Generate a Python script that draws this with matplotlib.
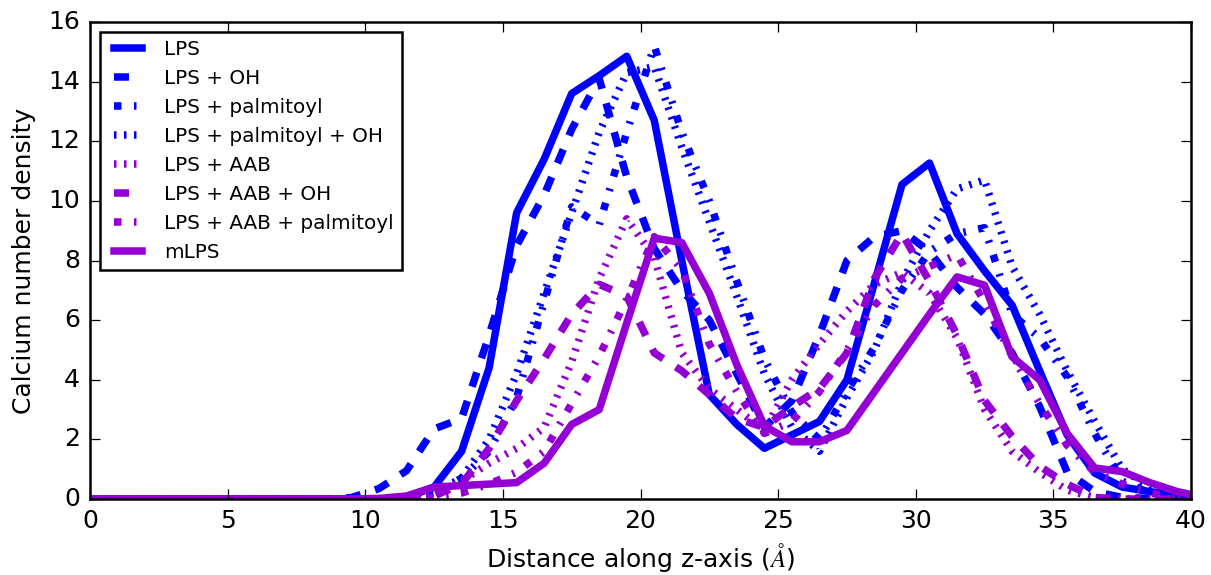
import numpy as np
import matplotlib
matplotlib.use('Agg')
from matplotlib import pyplot as plt

# sample positions (bin centres); everything below 8.5 is zero
x_head = np.arange(-0.5, 8.0, 1.0)
x_tail = np.arange(8.5, 41.0, 1.0)

lps = [0, 0, 0, 0.05, 0.4, 1.6, 4.4, 9.6, 11.4, 13.6, 14.2, 14.85, 12.7, 8.0, 3.5, 2.5, 1.7,
       2.15, 2.6, 4.0, 7.25, 10.55, 11.27, 8.9, 7.65, 6.5, 4.3, 2.15, 0.87, 0.4, 0.25, 0.12, 0.05]
lps_oh = [0, 0.05, 0.35, 0.95, 2.35, 2.7, 5.5, 8.5, 10.2, 12.4, 14.1, 10.8, 8.4, 7.0, 6.0, 4.2, 2.4,
          3.3, 5.5, 8.0, 8.8, 9.0, 8.3, 7.1, 6.2, 4.9, 3.1, 0.9, 0.25, 0.05, 0.02, 0, 0]
lps_palm = [0, 0, 0, 0.05, 0.2, 0.7, 1.6, 3.4, 6.6, 9.8, 9.2, 12.3, 15.2, 12.3, 10.0, 7.3, 4.7,
            2.9, 2.0, 3.6, 5.1, 7.0, 8.3, 8.9, 9.1, 6.2, 5.4, 4.1, 2.2, 0.6, 0.2, 0.05, 0]
lps_palm_oh = [0, 0, 0, 0.05, 0.2, 0.7, 2.0, 4.2, 6.9, 9.6, 12.3, 14.3, 14.5, 11.8, 9.3, 6.8, 4.2,
               2.4, 1.6, 3.4, 5.0, 7.3, 9.0, 10.4, 10.7, 7.8, 6.2, 4.3, 2.6, 1.0, 0.4, 0.1, 0.02]
lps_aab = [0, 0, 0, 0.02, 0.15, 0.6, 1.2, 1.7, 2.4, 4.6, 7.4, 9.4, 8.1, 4.9, 3.7, 3.0, 2.3,
           4.0, 5.2, 6.3, 7.2, 7.6, 6.9, 5.4, 3.0, 1.6, 0.9, 0.3, 0.05, 0, 0, 0, 0]
lps_aab_oh = [0, 0, 0, 0, 0.1, 0.5, 1.7, 3.3, 4.7, 6.2, 7.2, 6.8, 4.9, 4.3, 3.5, 2.7, 2.4,
              3.1, 3.7, 4.9, 7.4, 8.9, 7.3, 5.5, 3.3, 2.1, 1.1, 0.5, 0.05, 0, 0, 0, 0]
lps_aab_palm = [0, 0, 0, 0, 0.05, 0.2, 0.5, 0.9, 1.6, 3.2, 4.8, 6.7, 8.8, 7.7, 5.2, 3.6, 2.2,
                2.6, 3.6, 5.0, 6.5, 7.4, 7.8, 8.2, 6.6, 4.8, 3.2, 1.8, 0.9, 0.5, 0.2, 0.05, 0]
mlps = [0, 0, 0.02, 0.1, 0.4, 0.45, 0.5, 0.55, 1.2, 2.5, 3.0, 5.9, 8.75, 8.6, 6.9, 4.5, 2.45,
        1.92, 1.92, 2.3, 3.6, 4.9, 6.2, 7.45, 7.17, 4.77, 4.0, 2.2, 1.04, 0.92, 0.55, 0.25, 0.05]

labels = ['LPS', 'LPS + OH', 'LPS + palmitoyl', 'LPS + palmitoyl + OH',
          'LPS + AAB', 'LPS + AAB + OH', 'LPS + AAB + palmitoyl', 'mLPS']

plt.style.use('classic')
plt.rcParams['font.family'] = ['DejaVu Sans']

blue = '#0000ff'
purple = '#9400d3'
series = [
    (lps, blue, '-'),
    (lps_oh, blue, '--'),
    (lps_palm, blue, '-.'),
    (lps_palm_oh, blue, ':'),
    (lps_aab, purple, ':'),
    (lps_aab_oh, purple, '--'),
    (lps_aab_palm, purple, '-.'),
    (mlps, purple, '-'),
]

x = np.concatenate([x_head, x_tail])

fig = plt.figure(figsize=(1211 / 180, 575 / 180), dpi=180, facecolor='white')
ax = fig.add_axes([90 / 1211, 76 / 575, 1101 / 1211, 477 / 575])

for (vals, col, ls), lab in zip(series, labels):
    y = np.concatenate([np.zeros(len(x_head)), vals])
    ax.plot(x, y, color=col, linestyle=ls, linewidth=3, label=lab)

ax.set_xlim(0, 40)
ax.set_ylim(0, 16)
ax.set_xticks(np.arange(0, 41, 5))
ax.set_yticks(np.arange(0, 17, 2))
ax.tick_params(labelsize=10)
ax.set_xlabel(r'Distance along z-axis ($\AA$)', fontsize=10, labelpad=3)
ax.set_ylabel('Calcium number density', fontsize=10)
ax.legend(loc='upper left', fontsize=8)

fig.savefig('out.png', dpi=180, facecolor='white')
